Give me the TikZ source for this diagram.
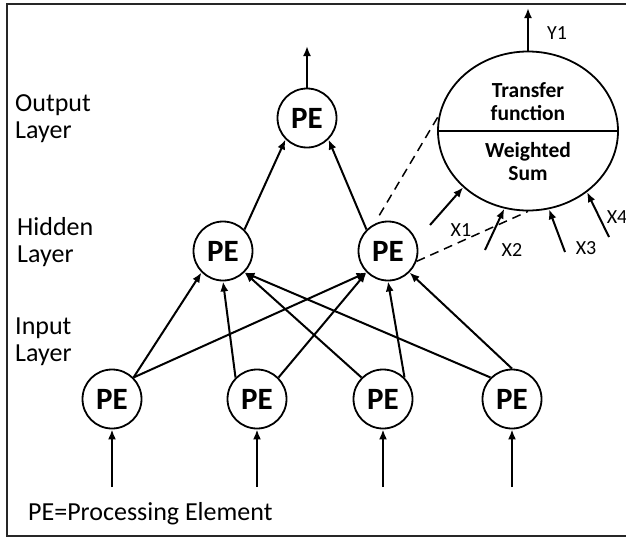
\documentclass[tikz,border=0pt]{standalone}
\usepackage{fontspec}
\setmainfont{Carlito}
\usetikzlibrary{arrows.meta}
\usetikzlibrary{shapes.geometric}
\usetikzlibrary{calc}

\tikzset{
  pe/.style={circle, draw, line width=1.8pt, minimum size=59pt, inner sep=0pt,
    font=\fontsize{31}{33}\selectfont\bfseries},
  layer/.style={anchor=north west, align=left, inner sep=0pt,
    font=\fontsize{26}{27}\selectfont},
  link/.style={line width=2pt, -{Latex[length=10pt,width=8pt]}},
  guide/.style={line width=1.5pt, dash pattern=on 9pt off 6pt},
  xin/.style={font=\fontsize{20}{22}\selectfont},
  inside/.style={font=\fontsize{21.5}{23}\selectfont\bfseries, align=center}
}

\begin{document}
\begin{tikzpicture}[x=1pt,y=-1pt]
  \useasboundingbox (0,0) rectangle (626,538);

  % Frame
  \draw[line width=1.5pt, black!85] (640,4) -- (7,4) -- (7,536) -- (640,536);

  % Layer names
  \node[layer] (lout) at (15,94) {Output\\Layer};
  \node[layer] (lhid) at (17,217) {Hidden\\Layer};
  \node[layer] (linp) at (15,318) {Input\\Layer};
  \node[layer] (key) at (28,502) {PE=Processing Element};

  % Processing elements
  \node[pe] (out) at (307,118) {PE};
  \node[pe] (hl) at (223,251) {PE};
  \node[pe] (hr) at (388,251) {PE};
  \foreach \x [count=\i] in {112,257,383,512}
  {
    \node[pe] (in\i) at (\x,399) {PE};
    \coordinate (s\i) at (\x,487);
    \draw[link] (s\i) -- (in\i);
  }

  % Input layer to hidden layer
  \foreach \a/\b in {in1.45/hl.225, in2.135/hl.270, in3.135/hl.-45, in4.135/hl.-45,
                     in1.45/hr.225, in2.45/hr.225, in3.45/hr.270, in4.90/hr.-45}
    \draw[link] (\a) -- (\b);

  % Hidden layer to output layer
  \draw[link] (hl.45) -- (out.225);
  \draw[link] (hr.135) -- (out.-45);
  \coordinate (top) at (307,46);
  \draw[link] (out) -- (top);

  % One element in detail
  \node[ellipse, draw, line width=1.8pt, minimum width=180pt, minimum height=159pt,
    inner sep=0pt] (unit) at (528,131) {};
  \draw[line width=1.8pt] (unit.west) -- (unit.east);
  \node[inside] (tf) at (528,102) {Transfer\\function};
  \node[inside] (ws) at (528,162) {Weighted\\Sum};

  \coordinate (y1) at (528,8);
  \draw[link] (unit.north) -- (y1);
  \node[xin] (ly1) at (557,33) {Y1};

  \foreach \px/\py/\ang/\i/\lx/\ly in {430/225/221/1/461/230, 485/250/253/2/512/250,
                                        565/252/285/3/586/248, 609/237/314/4/617/217}
  {
    \coordinate (x\i) at (\px,\py);
    \draw[link] (x\i) -- (unit.\ang);
    \node[xin] (lx\i) at (\lx,\ly) {X\i};
  }

  % Zoom lines
  \draw[guide, shorten <=10pt] (hr.117) -- (unit.170);
  \draw[guide] (hr.-20) -- (unit.south);
\end{tikzpicture}
\end{document}
